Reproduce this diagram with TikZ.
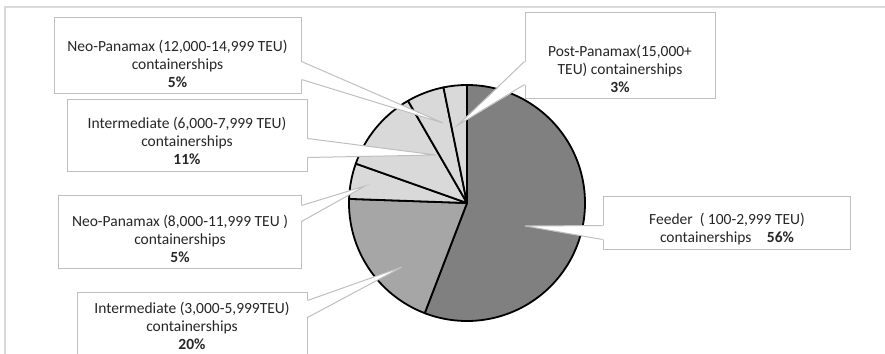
\documentclass[tikz,border=0pt]{standalone}
\usepackage{fontspec}
\setmainfont{Carlito}
\usetikzlibrary{calc}
\definecolor{framecol}{HTML}{D9D9D9}
\definecolor{boxline}{HTML}{BFBFBF}
\definecolor{feedcol}{HTML}{808080}
\definecolor{intercol}{HTML}{A6A6A6}
\definecolor{lightcol}{HTML}{D9D9D9}
\tikzset{
  slice/.style={draw=black, line width=1.8pt, line join=round},
  cbox/.style={draw=boxline, fill=white, line width=1pt, inner sep=0pt},
  ctext/.style={align=center, inner sep=0pt, text=black!85},
  ptr/.style={draw=boxline, line width=1pt, line join=miter},
}
\newcommand\callptr[6]{%
  \fill[white] ($(#1.#2)+(#3,#4)$) -- (#6) -- ($(#1.#2)+(#3,#5)$) -- cycle;
  \draw[ptr] ($(#1.#2)+(0,#4)$) -- (#6) -- ($(#1.#2)+(0,#5)$);
}
\begin{document}
\begin{tikzpicture}[x=1pt,y=-1pt,font=\fontsize{15.5}{18}\selectfont]
\useasboundingbox (0,0) rectangle (885,353);
\clip (0,0) rectangle (885,353);
\draw[framecol, line width=1.2pt] (5,7) rectangle (900,370);

% pie
\coordinate (c) at (467,203);
\filldraw[slice, fill=feedcol] (c) -- ++(90:118pt) arc[start angle=90, end angle=-111, radius=118pt] -- cycle;
\filldraw[slice, fill=intercol] (c) -- ++(249:118pt) arc[start angle=249, end angle=178, radius=118pt] -- cycle;
\filldraw[slice, fill=lightcol] (c) -- ++(178:118pt) arc[start angle=178, end angle=160.5, radius=118pt] -- cycle;
\filldraw[slice, fill=lightcol] (c) -- ++(160.5:118pt) arc[start angle=160.5, end angle=120, radius=118pt] -- cycle;
\filldraw[slice, fill=lightcol] (c) -- ++(120:118pt) arc[start angle=120, end angle=101.5, radius=118pt] -- cycle;
\filldraw[slice, fill=lightcol] (c) -- ++(101.5:118pt) arc[start angle=101.5, end angle=90, radius=118pt] -- cycle;

% callout boxes
\node[cbox, minimum width=247, minimum height=75] (b1) at (177.5,55.5) {};
\node[cbox, minimum width=240, minimum height=72] (b2) at (187,135) {};
\node[cbox, minimum width=190, minimum height=85] (b3) at (620,55.5) {};
\node[cbox, minimum width=243, minimum height=73] (b4) at (179.5,231.5) {};
\node[cbox, minimum width=230, minimum height=78] (b5) at (192,331) {};
\node[cbox, minimum width=247, minimum height=53] (b6) at (726.5,222.5) {};

% pointer tips
\coordinate (p1) at (443,123);
\coordinate (p2) at (436,155);
\coordinate (p3) at (458,125);
\coordinate (p4) at (365,186);
\coordinate (p5) at (402,267);
\coordinate (p6) at (525,226);

\callptr{b1}{north east}{-1.5}{44}{62}{p1}
\callptr{b2}{north east}{-1.5}{40}{59}{p2}
\callptr{b3}{north west}{1.5}{49}{72}{p3}
\callptr{b4}{north east}{-1.5}{11}{27}{p4}
\callptr{b5}{north east}{-1.5}{9}{26}{p5}
\callptr{b6}{north west}{1.5}{30}{44}{p6}

% texts
\node[ctext] (t1) at (177.5,64) {Neo-Panamax (12,000-14,999 TEU)\\containerships\\\textbf{5\%}};
\node[ctext] (t2) at (187,141) {Intermediate (6,000-7,999 TEU)\\containerships\\\textbf{11\%}};
\node[ctext] (t3) at (620,69) {Post-Panamax(15,000+\\TEU) containerships\\\textbf{3\%}};
\node[ctext] (t4) at (180,239) {Neo-Panamax (8,000-11,999 TEU )\\containerships\\\textbf{5\%}};
\node[ctext] (t5) at (192,326) {Intermediate (3,000-5,999TEU)\\containerships\\\textbf{20\%}};
\node[ctext] (t6) at (727,229.5) {Feeder\ \ ( 100-2,999 TEU)\\containerships\hspace{1em}\textbf{56\%}};
\end{tikzpicture}
\end{document}
